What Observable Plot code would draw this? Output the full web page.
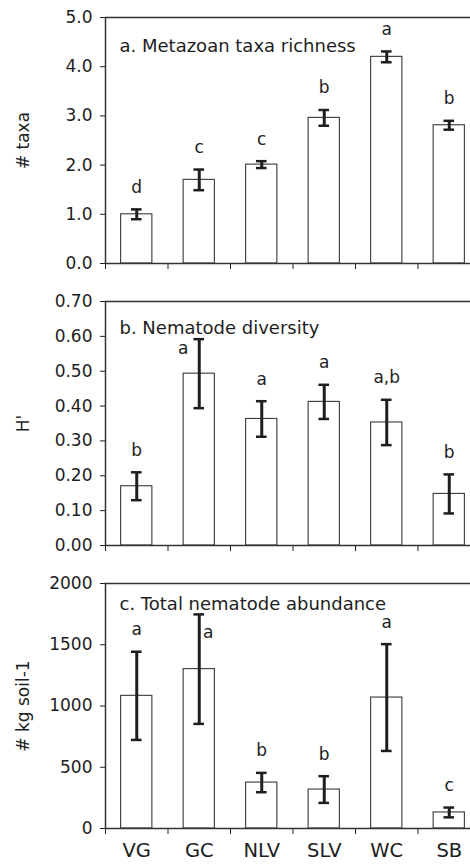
<!DOCTYPE html>
<html>
<head>
<meta charset="utf-8">
<script src="https://cdn.jsdelivr.net/npm/d3@7"></script>
<script src="https://cdn.jsdelivr.net/npm/@observablehq/plot@0.6"></script>
<style>
  html, body { margin: 0; padding: 0; background: #fff; overflow: hidden; }
  #chart svg { display: block; }
</style>
</head>
<body>
<div id="chart"></div>
<script>
// ---- data ----
const categories = ["VG", "GC", "NLV", "SLV", "WC", "SB"];

const taxaMean    = [1.00, 1.70, 2.01, 2.96, 4.20, 2.81];
const taxaErr     = [0.10, 0.21, 0.07, 0.16, 0.11, 0.09];
const taxaLetters = ["d", "c", "c", "b", "a", "b"];
const taxaTicks   = [0, 1, 2, 3, 4, 5];

const divMean    = [0.170, 0.493, 0.363, 0.412, 0.353, 0.148];
const divErr     = [0.040, 0.099, 0.051, 0.049, 0.065, 0.056];
const divLetters = ["b", "a", "a", "a", "a,b", "b"];
const divTicks   = [0, 0.1, 0.2, 0.3, 0.4, 0.5, 0.6, 0.7];

const abMean    = [1083, 1301, 375, 318, 1069, 131];
const abErr     = [360, 447, 79, 109, 436, 40];
const abLetters = ["a", "a", "b", "b", "a", "c"];
const abTicks   = [0, 500, 1000, 1500, 2000];

const panelTitles = ["a. Metazoan taxa richness", "b. Nematode diversity", "c. Total nematode abundance"];
const yTitles = ["# taxa", "H'", "# kg soil-1"];

// ---- drawing ----
const FONT = "'DejaVu Sans', Verdana, sans-serif";
const INK = "#1e1e1e";

function panel({mean, err, letters, ticks, fmt, title, yTitle, height, marginTop, marginBottom, titleDy, nudge, showCats}) {
  const data = categories.map((c, i) => ({i, cat: c, mean: mean[i], err: err[i], letter: letters[i]}));
  const normal = data.filter(d => !(nudge && nudge.i === d.i));
  const nudged = data.filter(d => nudge && nudge.i === d.i);
  const n = categories.length;
  const marks = [
    Plot.rectY(data, {x1: d => d.i + 0.25, x2: d => d.i + 0.75, y: "mean", fill: "white", stroke: "#383838", strokeWidth: 1.1}),
    Plot.ruleX(data, {x: d => d.i + 0.5, y1: d => d.mean - d.err, y2: d => d.mean + d.err, stroke: INK, strokeWidth: 3}),
    Plot.ruleY(data, {y: d => d.mean + d.err, x1: d => d.i + 0.5 - 0.085, x2: d => d.i + 0.5 + 0.085, stroke: INK, strokeWidth: 2.5}),
    Plot.ruleY(data, {y: d => d.mean - d.err, x1: d => d.i + 0.5 - 0.085, x2: d => d.i + 0.5 + 0.085, stroke: INK, strokeWidth: 2.5}),
    Plot.text(normal, {x: d => d.i + 0.5, y: d => d.mean + d.err, text: "letter", dy: -22, fontSize: 17, fill: INK}),
    Plot.ruleY([ticks[0]], {stroke: "#333", strokeWidth: 1.5}),
    Plot.ruleY([ticks[ticks.length - 1]], {stroke: "#333", strokeWidth: 1.5}),
    Plot.ruleX([0], {stroke: "#333", strokeWidth: 1.5}),
    Plot.text([title], {frameAnchor: "top-left", dx: 14, dy: titleDy, textAnchor: "start", lineAnchor: "top", fontSize: 18, fill: INK}),
    Plot.text([yTitle], {frameAnchor: "left", textAnchor: "middle", rotate: -90, dx: -82, fontSize: 17, fill: INK})
  ];
  if (nudge) {
    marks.push(Plot.text(nudged, {x: d => d.i + 0.5, y: d => d.mean + d.err, text: "letter", dx: nudge.dx, dy: nudge.dy, fontSize: 17, fill: INK}));
  }
  if (showCats) {
    marks.push(Plot.text(categories, {x: (d, i) => i + 0.5, frameAnchor: "bottom", dy: 28, fontSize: 19.5, fill: INK}));
  }
  return Plot.plot({
    width: 470,
    height,
    marginTop,
    marginBottom,
    marginLeft: 105,
    marginRight: 0,
    style: {fontFamily: FONT, fontSize: "17px", color: INK, background: "white"},
    x: {domain: [0, n], range: [105, 480], ticks: d3.range(n), tickFormat: () => "", tickSize: 6, label: null},
    y: {domain: [ticks[0], ticks[ticks.length - 1]], ticks, tickFormat: fmt, tickSize: 5, tickPadding: 8, label: null},
    marks
  });
}

const chart = document.getElementById("chart");
chart.append(panel({mean: taxaMean, err: taxaErr, letters: taxaLetters, ticks: taxaTicks, fmt: d3.format(".1f"),
  title: panelTitles[0], yTitle: yTitles[0], height: 283, marginTop: 17, marginBottom: 20, titleDy: 22}));
chart.append(panel({mean: divMean, err: divErr, letters: divLetters, ticks: divTicks, fmt: d3.format(".2f"),
  title: panelTitles[1], yTitle: yTitles[1], height: 283, marginTop: 18, marginBottom: 21, titleDy: 20,
  nudge: {i: 1, dx: -16, dy: 9}}));
chart.append(panel({mean: abMean, err: abErr, letters: abLetters, ticks: abTicks, fmt: d3.format("d"),
  title: panelTitles[2], yTitle: yTitles[2], height: 301, marginTop: 17, marginBottom: 39, titleDy: 14,
  nudge: {i: 1, dx: 9, dy: 18}, showCats: true}));
</script>
</body>
</html>
